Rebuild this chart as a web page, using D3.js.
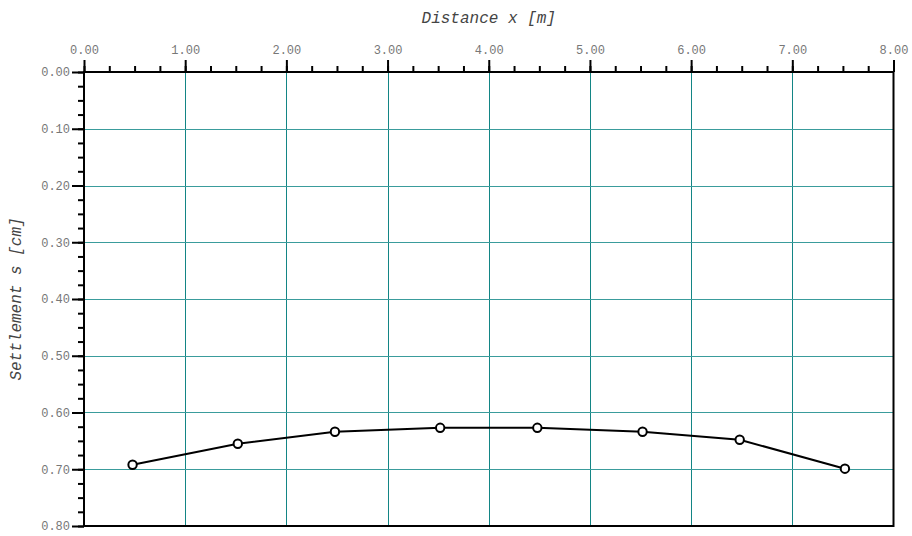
<!DOCTYPE html>
<html>
<head>
<meta charset="utf-8">
<script src="https://cdn.jsdelivr.net/npm/d3@7"></script>
<style>
  html, body { margin: 0; padding: 0; background: #fff; }
  svg { display: block; }
  .tick text { font-family: "Liberation Mono", "Courier New", monospace; font-size: 12px; fill: #777; }
</style>
</head>
<body>
<svg id="chart" width="912" height="536"></svg>
<script>
// Data
const distance = [0.48, 1.52, 2.48, 3.52, 4.48, 5.52, 6.48, 7.52];
const settlement = [0.692, 0.655, 0.634, 0.627, 0.627, 0.634, 0.648, 0.699];
const xMajorTicks = [0, 1, 2, 3, 4, 5, 6, 7, 8];
const yMajorTicks = [0, 0.1, 0.2, 0.3, 0.4, 0.5, 0.6, 0.7, 0.8];
const xTitle = "Distance x [m]";
const yTitle = "Settlement s [cm]";

(function () {
const svg = d3.select("#chart");
const pL = 84, pR = 893.5, pT = 72, pB = 526;

const x = d3.scaleLinear().domain([0, 8]).range([pL, pR]);
const y = d3.scaleLinear().domain([0, 0.8]).range([pT, pB]);

const fmt = d3.format(".2f");
const xMinor = d3.range(0, 8.001, 0.25);
const yMinor = d3.range(0, 0.8001, 0.025);

// grid
const grid = svg.append("g").attr("shape-rendering", "crispEdges");
grid.selectAll("line.vx").data(xMajorTicks.slice(1, -1)).join("line")
  .attr("x1", d => Math.round(x(d)) + 0.5).attr("x2", d => Math.round(x(d)) + 0.5)
  .attr("y1", pT).attr("y2", pB)
  .attr("stroke", "#138585").attr("stroke-width", 1);
grid.selectAll("line.hy").data(yMajorTicks.slice(1, -1)).join("line")
  .attr("y1", d => Math.round(y(d)) + 0.5).attr("y2", d => Math.round(y(d)) + 0.5)
  .attr("x1", pL).attr("x2", pR)
  .attr("stroke", "#3a9c9c").attr("stroke-width", 1);

// minor ticks
svg.append("g").attr("transform", `translate(0,${pT})`)
  .call(d3.axisTop(x).tickValues(xMinor).tickSize(6).tickFormat(""))
  .call(g => g.select(".domain").remove())
  .call(g => g.selectAll("line").attr("stroke", "#000").attr("stroke-width", 2));
svg.append("g").attr("transform", `translate(${pL},0)`)
  .call(d3.axisLeft(y).tickValues(yMinor).tickSize(6).tickFormat(""))
  .call(g => g.select(".domain").remove())
  .call(g => g.selectAll("line").attr("stroke", "#000").attr("stroke-width", 2));

// major ticks with labels
svg.append("g").attr("transform", `translate(0,${pT})`)
  .call(d3.axisTop(x).tickValues(xMajorTicks).tickSize(12).tickPadding(6).tickFormat(fmt))
  .call(g => g.select(".domain").remove())
  .call(g => g.selectAll("line").attr("stroke", "#000").attr("stroke-width", 2))
  .call(g => g.selectAll("text").attr("font-family", null).attr("font-size", null).attr("fill", null));
svg.append("g").attr("transform", `translate(${pL},0)`)
  .call(d3.axisLeft(y).tickValues(yMajorTicks).tickSize(12).tickPadding(2).tickFormat(fmt))
  .call(g => g.select(".domain").remove())
  .call(g => g.selectAll("line").attr("stroke", "#000").attr("stroke-width", 2))
  .call(g => g.selectAll("text").attr("font-family", null).attr("font-size", null).attr("fill", null));

// frame
svg.append("rect")
  .attr("x", pL).attr("y", pT)
  .attr("width", pR - pL).attr("height", pB - pT)
  .attr("fill", "none").attr("stroke", "#000").attr("stroke-width", 2);

// line
const line = d3.line().x((d, i) => x(distance[i])).y(d => y(d));
svg.append("path").datum(settlement)
  .attr("d", line).attr("fill", "none")
  .attr("stroke", "#000").attr("stroke-width", 2);

svg.selectAll("circle.pt").data(settlement).join("circle")
  .attr("class", "pt")
  .attr("cx", (d, i) => x(distance[i])).attr("cy", d => y(d))
  .attr("r", 4.2).attr("fill", "#fff")
  .attr("stroke", "#000").attr("stroke-width", 2);

// titles
svg.append("text")
  .attr("x", (pL + pR) / 2).attr("y", 23)
  .attr("text-anchor", "middle")
  .attr("font-family", "'Liberation Mono', 'Courier New', monospace")
  .attr("font-style", "italic").attr("font-size", 16)
  .attr("fill", "#444")
  .text(xTitle);
svg.append("text")
  .attr("transform", `translate(21,${(pT + pB) / 2}) rotate(-90)`)
  .attr("text-anchor", "middle")
  .attr("font-family", "'Liberation Mono', 'Courier New', monospace")
  .attr("font-style", "italic").attr("font-size", 16)
  .attr("fill", "#444")
  .text(yTitle);
})();
</script>
</body>
</html>
